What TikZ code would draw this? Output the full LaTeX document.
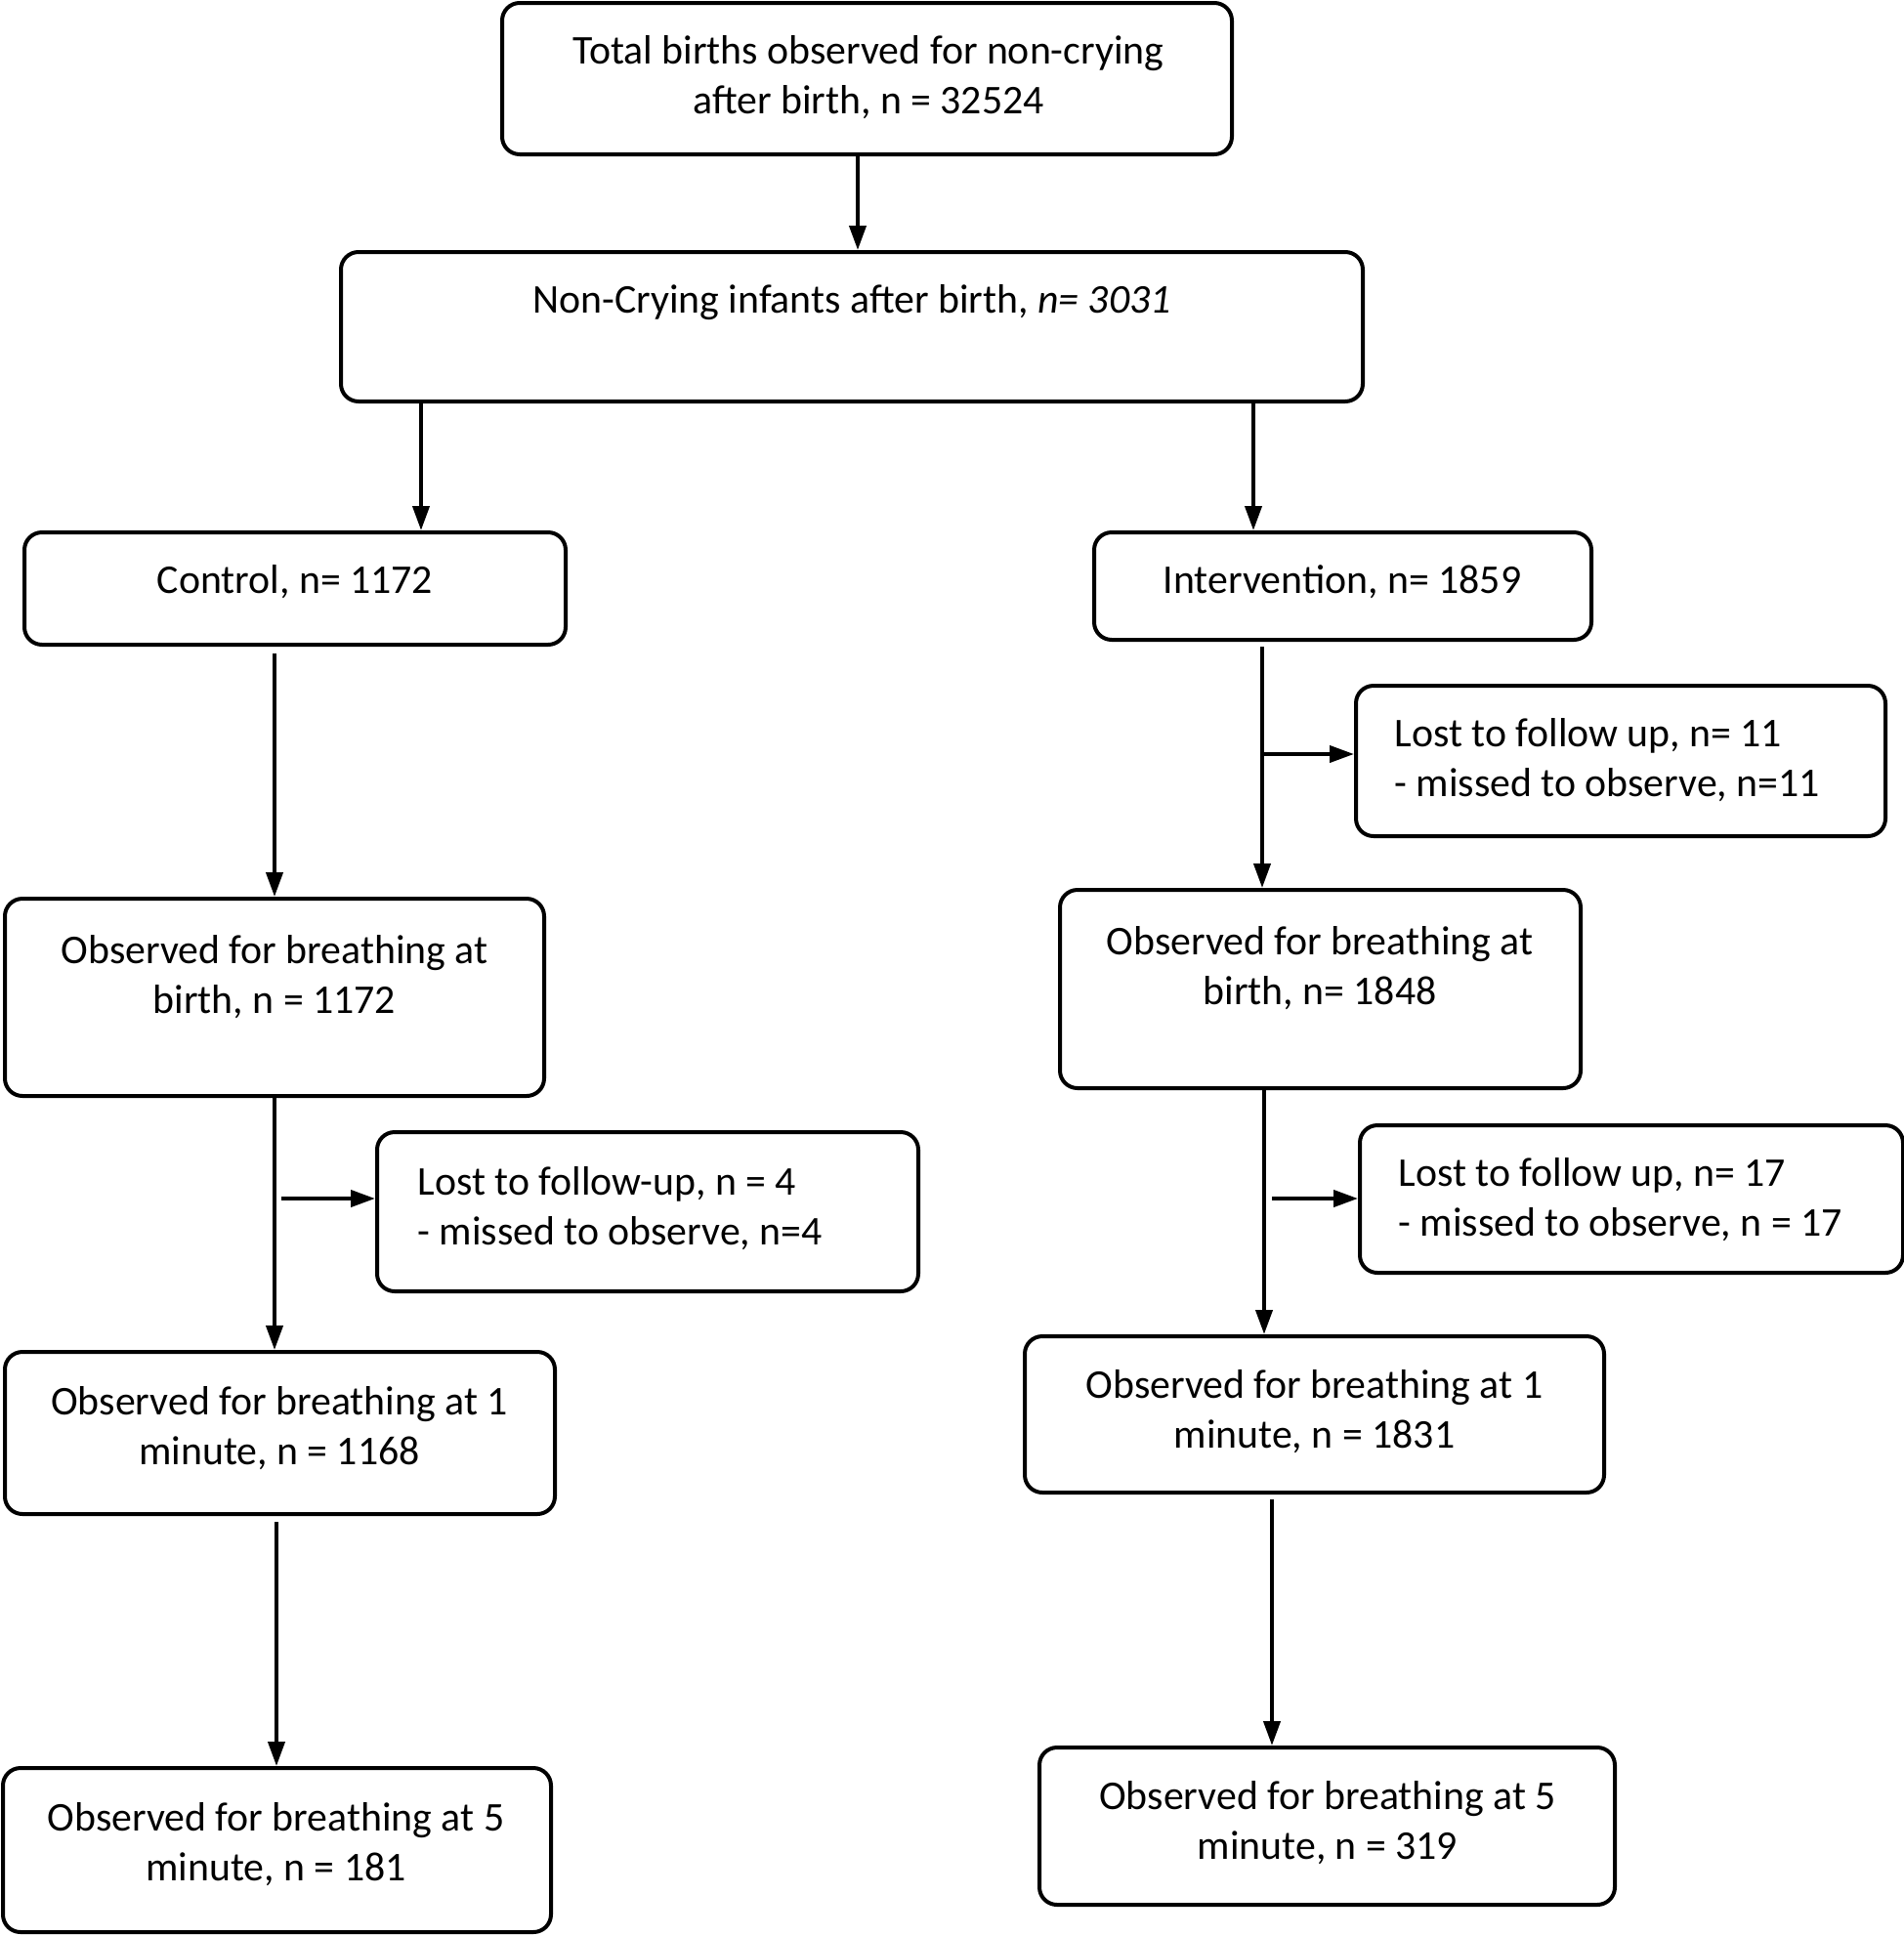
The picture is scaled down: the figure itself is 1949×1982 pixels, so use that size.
\documentclass[tikz,border=0pt]{standalone}
\usepackage{fontspec}
\setmainfont{Carlito}
\usetikzlibrary{positioning,arrows.meta}

\begin{document}
\begin{tikzpicture}[x=1pt, y=-1pt, bx/.style={draw, rounded corners=18pt, line width=4pt, inner sep=0pt}, lbl/.style={font=\fontsize{41.8}{51}\selectfont, align=center}, ar/.style={line width=4pt, -{Triangle[length=25pt, width=17pt]}}]
		\useasboundingbox (0,0) rectangle (1949,1982);
		\node[bx, minimum width=747pt, minimum height=155pt] (Tot) at (887.5,80.5) {};
		\node[lbl] (Tot_label) at (889,79.5) {Total births observed for non-crying\\after birth, n = 32524};
		\node[bx, minimum width=1046pt, minimum height=153pt] (Non) at (872,334.5) {};
		\node[lbl] (Non_label) at (872,310) {Non-Crying infants after birth, \textit{n= 3031}};
		\node[bx, minimum width=554pt, minimum height=115pt] (Ctl) at (302,602.5) {};
		\node[lbl] (Ctl_label) at (302,596) {Control, n= 1172};
		\node[bx, minimum width=509pt, minimum height=110pt] (Int) at (1374.5,600) {};
		\node[lbl] (Int_label) at (1374,596) {Intervention, n= 1859};
		\node[bx, minimum width=552pt, minimum height=202pt] (BirthL) at (281,1021) {};
		\node[lbl] (BirthL_label) at (281,1000) {Observed for breathing at\\birth, n = 1172};
		\node[bx, minimum width=554pt, minimum height=163pt] (LossL) at (663,1240.5) {};
		\node[lbl, align=left, anchor=west] (LossL_label) at (424,1237) {Lost to follow-up, n = 4\\- missed to observe, n=4};
		\node[bx, minimum width=563pt, minimum height=166pt] (MinL) at (286.5,1467) {};
		\node[lbl] (MinL_label) at (286,1462) {Observed for breathing at 1\\minute, n = 1168};
		\node[bx, minimum width=561pt, minimum height=168pt] (FiveL) at (283.5,1894) {};
		\node[lbl] (FiveL_label) at (282.5,1888) {Observed for breathing at 5\\minute, n = 181};
		\node[bx, minimum width=542pt, minimum height=154pt] (LossR1) at (1659,779) {};
		\node[lbl, align=left, anchor=west] (LossR1_label) at (1424,778) {Lost to follow up, n= 11\\- missed to observe, n=11};
		\node[bx, minimum width=533pt, minimum height=203pt] (BirthR) at (1351.5,1012.5) {};
		\node[lbl] (BirthR_label) at (1351,991) {Observed for breathing at\\birth, n= 1848};
		\node[bx, minimum width=556pt, minimum height=151pt] (LossR2) at (1670,1227.5) {};
		\node[lbl, align=left, anchor=west] (LossR2_label) at (1428,1228.5) {Lost to follow up, n= 17\\- missed to observe, n = 17};
		\node[bx, minimum width=593pt, minimum height=160pt] (MinR) at (1345.5,1448) {};
		\node[lbl] (MinR_label) at (1345.5,1445) {Observed for breathing at 1\\minute, n = 1831};
		\node[bx, minimum width=589pt, minimum height=161pt] (FiveR) at (1358.5,1869.5) {};
		\node[lbl] (FiveR_label) at (1359,1866) {Observed for breathing at 5\\minute, n = 319};

		\coordinate (jL) at (288,1227);
		\coordinate (jR1) at (1292,772);
		\coordinate (jR2) at (1302,1227);

		\draw[ar] (Tot.south -| 878,0) -- (Non.north -| 878,0);
		\draw[ar] (Non.south -| 431,0) -- (Ctl.north -| 431,0);
		\draw[ar] (Non.south -| 1283,0) -- (Int.north -| 1283,0);
		\draw[ar, shorten <=7pt] (Ctl.south -| 281,0) -- (BirthL.north -| 281,0);
		\draw[ar] (BirthL.south -| 281,0) -- (MinL.north -| 281,0);
		\draw[ar, shorten <=6pt] (MinL.south -| 283,0) -- (FiveL.north -| 283,0);
		\draw[ar, shorten <=5pt] (Int.south -| 1292,0) -- (BirthR.north -| 1292,0);
		\draw[ar] (BirthR.south -| 1294,0) -- (MinR.north -| 1294,0);
		\draw[ar, shorten <=5pt] (MinR.south -| 1302,0) -- (FiveR.north -| 1302,0);
		\draw[ar] (jL) -- (jL -| LossL.west);
		\draw[ar] (jR1) -- (jR1 -| LossR1.west);
		\draw[ar] (jR2) -- (jR2 -| LossR2.west);
	\end{tikzpicture}
\end{document}
